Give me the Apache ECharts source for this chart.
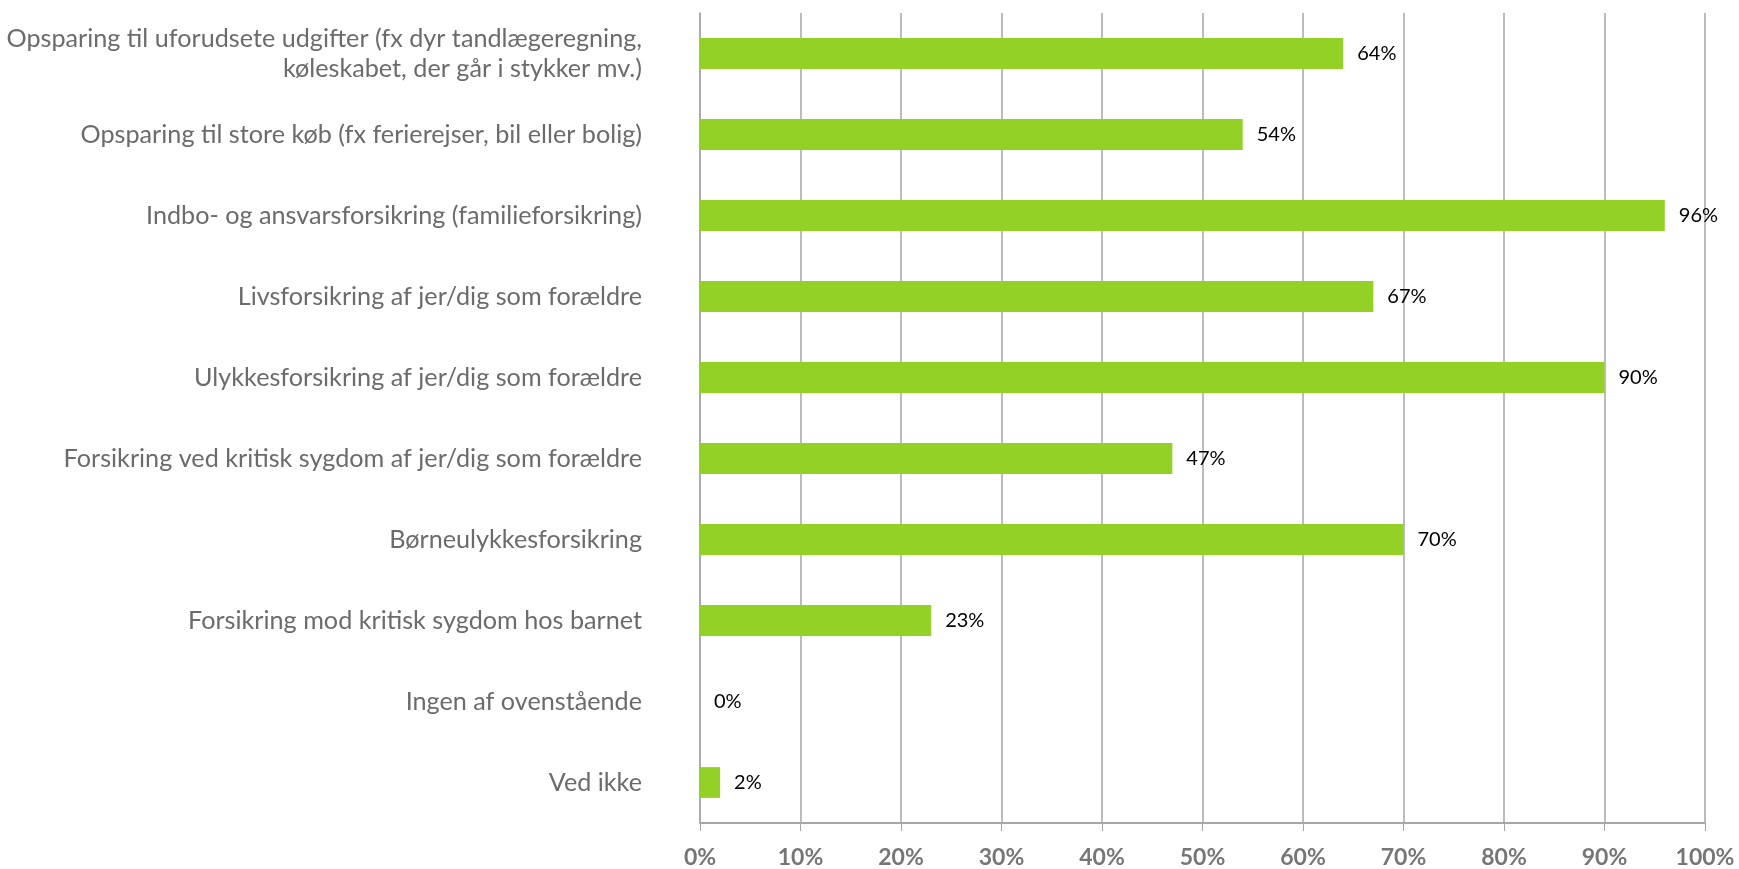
<!DOCTYPE html>
<html>
<head>
<meta charset="utf-8">
<script src="https://cdn.jsdelivr.net/npm/echarts@6/dist/echarts.min.js"></script>
<style>
  html, body { margin: 0; padding: 0; background: #fff; }
  #chart { width: 1739px; height: 869px; }
</style>
</head>
<body>
<div id="chart"></div>
<script>
// categories, top to bottom
const categories = [
  'Opsparing til uforudsete udgifter (fx dyr tandlægeregning,\nkøleskabet, der går i stykker mv.)',
  'Opsparing til store køb (fx ferierejser, bil eller bolig)',
  'Indbo- og ansvarsforsikring (familieforsikring)',
  'Livsforsikring af jer/dig som forældre',
  'Ulykkesforsikring af jer/dig som forældre',
  'Forsikring ved kritisk sygdom af jer/dig som forældre',
  'Børneulykkesforsikring',
  'Forsikring mod kritisk sygdom hos barnet',
  'Ingen af ovenstående',
  'Ved ikke'
];
const values = [64, 54, 96, 67, 90, 47, 70, 23, 0, 2];
const xTicks = [0, 10, 20, 30, 40, 50, 60, 70, 80, 90, 100];

const chart = echarts.init(document.getElementById('chart'));
chart.setOption({
  animation: false,
  grid: {
    left: 700,
    right: 34,
    top: 13,
    bottom: 46,
    containLabel: false
  },
  xAxis: {
    type: 'value',
    min: xTicks[0],
    max: xTicks[xTicks.length - 1],
    interval: 10,
    axisLine: { show: true, lineStyle: { color: '#a6a6a6', width: 2 } },
    axisTick: { show: true, length: 8, lineStyle: { color: '#a6a6a6' } },
    axisLabel: {
      margin: 23,
      color: '#767676',
      fontFamily: 'Lato',
      fontWeight: 'bold',
      fontSize: 23,
      formatter: '{value}%'
    },
    splitLine: { show: true, lineStyle: { color: '#a6a6a6', width: 1.5 } }
  },
  yAxis: {
    type: 'category',
    inverse: true,
    data: categories,
    axisLine: { show: true, lineStyle: { color: '#a6a6a6', width: 1.5 } },
    axisTick: { show: false },
    axisLabel: {
      margin: 58,
      color: '#6b6b6b',
      fontFamily: 'Lato',
      fontSize: 25.2,
      align: 'right',
      lineHeight: 30
    }
  },
  series: [{
    type: 'bar',
    data: values,
    barWidth: '38%',
    itemStyle: { color: '#94d126' },
    label: {
      show: true,
      position: 'right',
      distance: 14,
      color: '#000',
      fontFamily: 'Lato',
      fontSize: 20,
      formatter: '{c}%'
    }
  }]
});
</script>
</body>
</html>
